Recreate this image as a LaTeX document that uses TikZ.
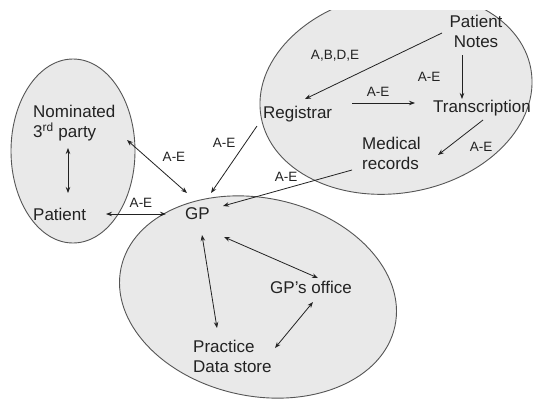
\documentclass[tikz,border=0pt]{standalone}
\usepackage{fontspec}
\setmainfont{Liberation Sans}
\usetikzlibrary{arrows.meta}
\definecolor{fillg}{HTML}{E9E9E9}
\definecolor{edgec}{HTML}{555555}
\definecolor{ink}{HTML}{222222}
\begin{document}
\begin{tikzpicture}[x=1pt,y=-1pt,
  group/.style={fill=fillg,draw=edgec,line width=0.9pt},
  txt/.style={inner sep=0pt,text=ink,font=\fontsize{17}{20}\selectfont},
  lbl/.style={inner sep=0pt,text=ink,font=\fontsize{13.5}{16}\selectfont},
  conn/.style={draw=ink,line width=0.8pt,-{Stealth[length=6pt,width=4.5pt]}},
  bi/.style={draw=ink,line width=0.8pt,{Stealth[length=6pt,width=4.5pt]}-{Stealth[length=6pt,width=4.5pt]}}]
\useasboundingbox (0,0) rectangle (533,400);
\fill[white] (0,0) rectangle (533,400);
% groups
\draw[group] (73,151) ellipse [x radius=62pt, y radius=92pt];
\begin{scope}
\clip (0,10) rectangle (533,400);
\draw[group, rotate around={10:(396,93)}] (396,93) ellipse [x radius=137pt, y radius=100pt];
\end{scope}
\draw[group, rotate around={-12:(258,297)}] (258,297) ellipse [x radius=140pt, y radius=99pt];
% text nodes
\node[txt,anchor=north west,align=left] (nom) at (33,105) {Nominated\\3\textsuperscript{rd} party};
\node[txt,anchor=base west] (pat) at (33,220) {Patient};
\node[txt,anchor=base west] (gp) at (185,219) {GP};
\node[txt,anchor=north,align=center] (pn) at (476,15) {Patient\\Notes};
\node[txt,anchor=base west] (reg) at (263,118) {Registrar};
\node[txt,anchor=base west] (tr) at (433,112) {Transcription};
\node[txt,anchor=north west,align=left] (med) at (362,137) {Medical\\records};
\node[txt,anchor=base west] (off) at (270,293) {GP’s office};
\node[txt,anchor=north west,align=left] (prac) at (193,340) {Practice\\Data store};
% connector ends
\coordinate (nomS) at (68,148);
\coordinate (patN) at (68,193);
\coordinate (nomE) at (127,140);
\coordinate (gpNW) at (187,193);
\coordinate (regSW) at (257,126);
\coordinate (gpNE) at (211,193);
\coordinate (patE) at (106,214);
\coordinate (gpW) at (166,214);
\coordinate (medW) at (352,170);
\coordinate (gpE) at (223,206);
\coordinate (pnW) at (442,33);
\coordinate (regNE) at (305,99);
\coordinate (pnS) at (462,55);
\coordinate (trN) at (462,99);
\coordinate (regE) at (352,103);
\coordinate (trW) at (415,103);
\coordinate (trS) at (483,120);
\coordinate (medE) at (438,155);
\coordinate (gpSE) at (224,237);
\coordinate (offNW) at (318,278);
\coordinate (gpS) at (202,235);
\coordinate (pracN) at (217,328);
\coordinate (offSW) at (313,302);
\coordinate (pracE) at (275,348);
% connectors
\draw[bi] (nomS) -- (patN);
\draw[bi] (nomE) -- (gpNW);
\draw[conn] (regSW) -- (gpNE);
\draw[bi] (patE) -- (gpW);
\draw[conn] (medW) -- (gpE);
\draw[conn] (pnW) -- (regNE);
\draw[conn] (pnS) -- (trN);
\draw[conn] (regE) -- (trW);
\draw[conn] (trS) -- (medE);
\draw[bi] (gpSE) -- (offNW);
\draw[bi] (gpS) -- (pracN);
\draw[bi] (offSW) -- (pracE);
% labels
\node[lbl] (l1) at (174,157) {A-E};
\node[lbl] (l2) at (224,143) {A-E};
\node[lbl] (l3) at (141,203) {A-E};
\node[lbl] (l4) at (286,177) {A-E};
\node[lbl] (l5) at (335,56) {A,B,D,E};
\node[lbl] (l6) at (429,77) {A-E};
\node[lbl] (l7) at (378,92) {A-E};
\node[lbl] (l8) at (481,147) {A-E};
\end{tikzpicture}
\end{document}
